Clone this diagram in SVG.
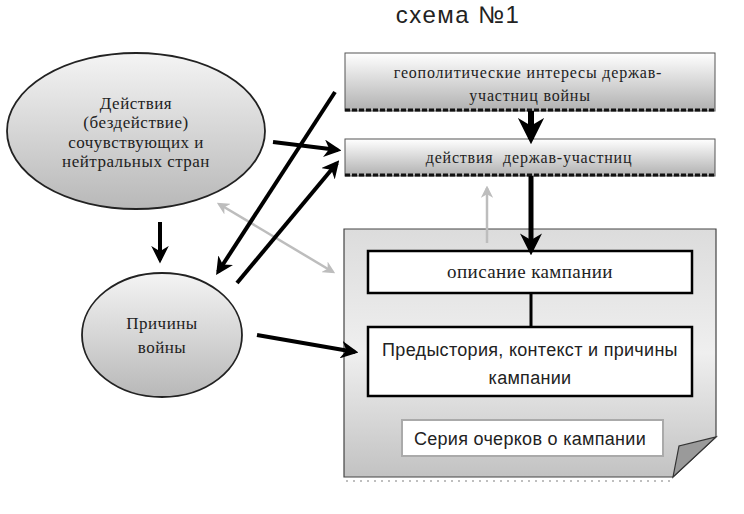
<svg xmlns="http://www.w3.org/2000/svg" width="744" height="514" viewBox="0 0 744 514">
<defs>
<linearGradient id="gBox" x1="0" y1="0" x2="0" y2="1">
<stop offset="0" stop-color="#ffffff"/><stop offset="1" stop-color="#b0b0b0"/>
</linearGradient>
<linearGradient id="gEll" x1="0" y1="0" x2="0" y2="1">
<stop offset="0" stop-color="#f4f4f4"/><stop offset="1" stop-color="#b8b8b8"/>
</linearGradient>
<linearGradient id="gDoc" x1="0" y1="0" x2="0" y2="1">
<stop offset="0" stop-color="#dcdcdc"/><stop offset="0.5" stop-color="#efefef"/><stop offset="1" stop-color="#c2c2c2"/>
</linearGradient>
<marker id="ah" viewBox="0 0 10 10" refX="8" refY="5" markerWidth="4.4" markerHeight="4.4" orient="auto" markerUnits="strokeWidth">
<path d="M0,0 L10,5 L0,10 L3,5 Z" fill="#000"/>
</marker>
<marker id="ahg" viewBox="0 0 10 10" refX="8" refY="5" markerWidth="5" markerHeight="5" orient="auto-start-reverse" markerUnits="strokeWidth">
<path d="M0,0 L10,5 L0,10 L3,5 Z" fill="#bdbdbd"/>
</marker>
</defs>
<style>
.serif{font-family:"Liberation Serif","DejaVu Serif",serif;fill:#222;text-anchor:middle}
.sans{font-family:"Liberation Sans","DejaVu Sans",sans-serif;fill:#222;text-anchor:middle}
.box{fill:url(#gBox);stroke:#555;stroke-width:1}
.dash{stroke:#111;stroke-width:3;stroke-dasharray:5 2;fill:none}
.ell{fill:url(#gEll);stroke:#222;stroke-width:1.8}
.wbox{fill:#fff;stroke:#000;stroke-width:2.5}
.arr{stroke:#000;stroke-width:4;fill:none;marker-end:url(#ah)}
.garr{stroke:#bdbdbd;stroke-width:2.5;fill:none}
.t1{font-size:16px;letter-spacing:0.8px}
.t2{font-size:17px;letter-spacing:0.5px}
.t3{font-size:18px;letter-spacing:0.3px}
</style>
<rect width="744" height="514" fill="#fff"/>
<text class="sans" x="458" y="23" font-size="24" letter-spacing="1.5">схема №1</text>

<g id="doc">
<path d="M344,229 H716 V437 L673,477 H344 Z" fill="url(#gDoc)" stroke="#444" stroke-width="1.2"/>
<path d="M673,477 L679,446 L716,437 Z" fill="#9a9a9a" stroke="#333" stroke-width="1.2"/>
<line x1="346" y1="481" x2="672" y2="481" stroke="#aaa" stroke-width="1.5" stroke-dasharray="2 5"/>
</g>

<g id="geo">
<rect class="box" x="345" y="53" width="370" height="58"/>
<line class="dash" x1="345" y1="110" x2="715" y2="110"/>
<text class="serif t1" x="528" y="78">геополитические интересы держав-</text>
<text class="serif t1" x="530" y="101">участниц войны</text>
</g>

<g id="actions">
<rect class="box" x="345" y="139" width="370" height="37"/>
<line class="dash" x1="345" y1="175" x2="715" y2="175"/>
<text class="serif t1" x="529" y="163" xml:space="preserve">действия  держав-участниц</text>
</g>

<g id="opisanie">
<rect class="wbox" x="368" y="251" width="324" height="42"/>
<text class="serif" x="530" y="278" font-size="19" letter-spacing="0.4">описание кампании</text>
</g>

<g id="predystoria">
<rect class="wbox" x="368" y="327" width="324" height="69"/>
<text class="sans t3" x="530" y="356">Предыстория, контекст и причины</text>
<text class="sans t3" x="530" y="384">кампании</text>
</g>

<g id="seria">
<rect x="402" y="420" width="261" height="36" fill="#fff" stroke="#aaa" stroke-width="2"/>
<text class="sans t3" x="530" y="445">Серия очерков о кампании</text>
</g>

<g id="ell1">
<ellipse class="ell" cx="136" cy="131" rx="129" ry="78"/>
<text class="serif t2" x="136" y="109">Действия</text>
<text class="serif t2" x="136" y="128">(бездействие)</text>
<text class="serif t2" x="136" y="148">сочувствующих и</text>
<text class="serif t2" x="136" y="167">нейтральных стран</text>
</g>

<g id="ell2">
<ellipse class="ell" cx="162" cy="335" rx="80" ry="62"/>
<text class="serif t2" x="162" y="329">Причины</text>
<text class="serif t2" x="162" y="353">войны</text>
</g>

<g id="connectors">
<line x1="531" y1="111" x2="531" y2="139" stroke="#000" stroke-width="6" marker-end="url(#ah)"/>
<line x1="531" y1="176" x2="531" y2="251" stroke="#000" stroke-width="5" marker-end="url(#ah)"/>
<line x1="531" y1="293" x2="531" y2="327" stroke="#000" stroke-width="3"/>
<line class="garr" x1="487" y1="243" x2="487" y2="188" marker-end="url(#ahg)"/>
<line class="garr" x1="219" y1="204" x2="333" y2="272" marker-start="url(#ahg)" marker-end="url(#ahg)"/>
<line class="arr" x1="273" y1="142" x2="338" y2="150"/>
<line class="arr" x1="335" y1="92" x2="218" y2="272"/>
<line class="arr" x1="237" y1="283" x2="337" y2="163"/>
<line class="arr" x1="160" y1="222" x2="160" y2="260"/>
<line class="arr" x1="257" y1="335" x2="355" y2="352"/>
</g>
</svg>
